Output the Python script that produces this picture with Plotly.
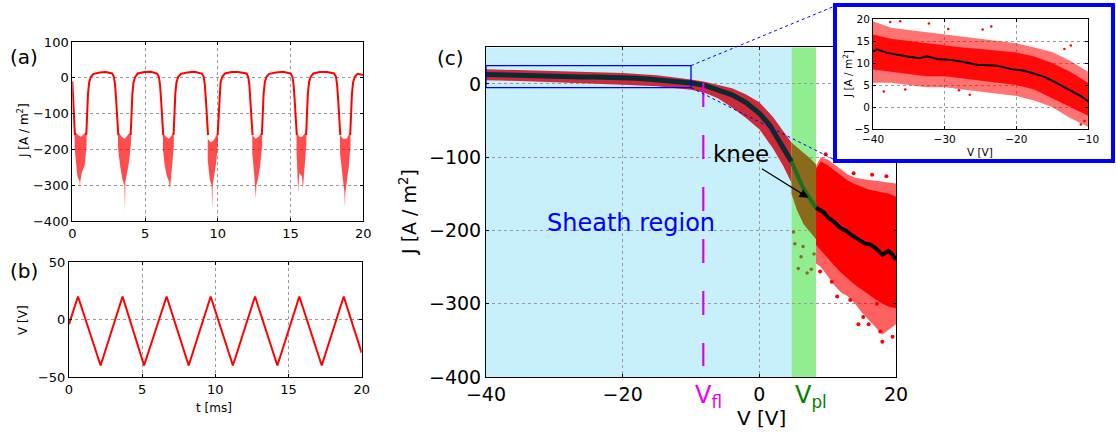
import plotly.graph_objects as go

W, H = 1116, 434
FONT = "DejaVu Sans"

# ---------------- Panel (a): J(t) ----------------
T_A_LINE = [0, 0.06, 0.12, 0.18, None,
            0.96, 1.02, 1.08, 1.16, 1.28, 1.46, 1.9, 2.3, 2.74, 2.86, 2.94, 3.01, 3.08, 3.16, None,
            4.01, 4.07, 4.13, 4.21, 4.33, 4.51, 4.95, 5.4, 5.83, 5.95, 6.03, 6.1, 6.17, 6.25, None,
            6.96, 7.02, 7.08, 7.16, 7.28, 7.46, 7.9, 8.4, 8.91, 9.03, 9.11, 9.18, 9.25, 9.33, None,
            9.99, 10.05, 10.11, 10.19, 10.31, 10.49, 10.95, 11.4, 11.97, 12.09, 12.17, 12.24, 12.31, 12.39, None,
            13.03, 13.09, 13.15, 13.23, 13.35, 13.53, 14.0, 14.5, 15.01, 15.13, 15.21, 15.28, 15.35, 15.43, None,
            16.07, 16.13, 16.19, 16.27, 16.39, 16.57, 17.0, 17.5, 18.0, 18.12, 18.2, 18.27, 18.34, 18.42, None,
            19.1, 19.16, 19.22, 19.3, 19.42, 19.6, 20]
J_A_LINE = [-10, -60, -110, -160, None,
            -160, -100, -45, -12, 3, 11, 15, 16, 12, 3, -20, -60, -110, -160, None,
            -160, -100, -45, -12, 3, 12, 16, 17, 12, 3, -20, -60, -110, -160, None,
            -160, -100, -45, -12, 3, 11, 15, 17, 12, 3, -20, -60, -110, -160, None,
            -160, -100, -45, -12, 3, 12, 16, 16, 12, 3, -20, -60, -110, -160, None,
            -160, -100, -45, -12, 3, 11, 15, 17, 12, 3, -20, -60, -110, -160, None,
            -160, -100, -45, -12, 3, 12, 16, 16, 12, 3, -20, -60, -110, -160, None,
            -160, -100, -45, -12, 3, 11, 8]

# scattered dip clouds (outline of each cloud)
T_A_DIPS = [0.16, 0.4, 0.6, 0.8, 0.98, 0.98, 0.85, 0.65, 0.55, 0.53, 0.5, 0.35, 0.25, 0.16, None,
            3.14, 3.4, 3.6, 3.8, 4.03, 4.03, 3.9, 3.75, 3.65, 3.62, 3.58, 3.45, 3.3, 3.14, None,
            6.23, 6.45, 6.65, 6.85, 6.98, 6.98, 6.85, 6.75, 6.71, 6.65, 6.5, 6.35, 6.23, None,
            9.31, 9.5, 9.7, 9.85, 10.01, 10.01, 9.88, 9.75, 9.65, 9.62, 9.58, 9.45, 9.31, None,
            12.37, 12.6, 12.8, 13.05, 13.05, 12.9, 12.75, 12.65, 12.62, 12.58, 12.5, 12.37, None,
            15.41, 15.6, 15.8, 16.09, 16.09, 15.98, 15.9, 15.85, 15.78, 15.6, 15.52, 15.47, 15.41, None,
            18.4, 18.6, 18.85, 19.12, 19.12, 19.0, 18.85, 18.77, 18.74, 18.7, 18.6, 18.5, 18.4]
J_A_DIPS = [-150, -160, -165, -158, -150, -190, -245, -265, -290, -315, -290, -275, -240, -195, None,
            -150, -165, -170, -160, -150, -185, -235, -270, -290, -372, -300, -285, -250, -195, None,
            -155, -165, -170, -160, -150, -190, -250, -285, -312, -290, -275, -245, -200, None,
            -170, -180, -175, -165, -150, -185, -240, -270, -300, -370, -300, -285, -230, None,
            -160, -170, -165, -150, -190, -250, -285, -300, -338, -300, -270, -210, None,
            -150, -165, -165, -150, -185, -240, -280, -310, -275, -265, -322, -260, -200, None,
            -160, -170, -170, -150, -190, -250, -295, -320, -362, -320, -285, -250, -210]

# ---------------- Panel (b): V(t) ----------------
T_B = [0, 0.615, 2.16, 3.66, 5.13, 6.67, 8.18, 9.68, 11.2, 12.71, 14.24, 15.74, 17.27, 18.77, 20]
V_B = [-4, 20, -40, 20, -40, 20, -40, 20, -40, 20, -40, 20, -40, 20, -29]

# ---------------- Panel (c): J(V) ----------------
V_FL = -8.2
V_PL_LO, V_PL_HI = 4.7, 8.3
VFL_J_TOP, VFL_J_BOT = 1.4, -385

V_SHEATH = [-40, -35, -30, -25, -20, -15, -12, -10, -8, -6, -4, -2, 0, 2, 3.5, 4.7]
J_SHEATH_HI = [20, 19, 18, 17, 15, 12, 9, 6, 3, -1, -6, -14, -25, -45, -64, -80]
J_SHEATH_LO = [5, 4, 2.5, 1, -1, -3, -6, -8, -12, -20, -32, -46, -62, -88, -112, -135]

V_BROWN = [4.7, 5.5, 6.5, 7.5, 8.3]
J_BROWN_HI = [-80, -86, -94, -102, -110]
J_BROWN_LO = [-150, -172, -192, -203, -212]
V_BROWN_PTS = [5.2, 6.1, 5.7, 7.6, 8.0, 5.0, 7.0, 6.4]
J_BROWN_PTS = [-218, -236, -252, -253, -232, -202, -258, -222]

V_RED = [8.3, 9, 10, 11, 12, 13, 14, 15, 16, 17, 18, 19, 20]
J_RED_OUT_HI = [-112, -100, -103, -110, -118, -124, -128, -130, -131, -132, -133, -134, -136]
J_RED_OUT_LO = [-245, -250, -262, -275, -285, -290, -300, -312, -322, -332, -342, -335, -328]
J_RED_IN_HI = [-116, -106, -111, -118, -126, -132, -137, -141, -144, -146, -148, -150, -154]
J_RED_IN_LO = [-220, -228, -238, -248, -258, -266, -274, -281, -288, -294, -300, -304, -306]
V_RED_PTS = [9.7, 13.8, 16.5, 18.6, 11.4, 13.3, 14.5, 15.2, 18.0, 17.7, 8.9, 19.5, 12.2, 16.0, 10.6, 17.2]
J_RED_PTS = [-96, -122, -124, -126, -290, -295, -328, -318, -352, -338, -256, -345, -97, -328, -270, -300]

V_MEAN_S = [-40, -38, -36, -34, -32, -30, -28, -26, -24, -22, -20, -18, -16, -14, -12, -10,
            -8, -6, -4, -2, 0, 1.5, 3, 4.7]
J_MEAN_S = [13, 12.3, 11.7, 11.2, 11.3, 10.7, 10.3, 9.6, 9.5, 9.2, 8.5, 7.7, 6.5, 5.2, 3.6, 1.3,
            -2, -8, -15, -25, -40, -56, -78, -106]
V_MEAN_G = [4.7, 5.5, 6.3, 7.2, 8.3]
J_MEAN_G = [-106, -124, -140, -154, -169]
V_MEAN_R = [8.3, 9.4, 10.1, 10.9, 11.9, 12.8, 13.6, 14.1, 14.8, 15.5, 16.2, 17.0, 18.0, 18.9, 19.4, 20]
J_MEAN_R = [-169, -175, -183, -188, -197, -201, -207, -210, -213, -218, -219, -224, -233, -228, -232, -240]

# ---------------- Inset ----------------
V_IN = [-40, -37.5, -35, -32.5, -30, -27.5, -25, -22.5, -20, -17.5, -15, -12.5, -10]
J_IN_OUT_HI = [19.5, 18, 17.5, 17, 16.5, 16, 15.5, 15, 14.5, 13.5, 12.5, 10.5, 8]
J_IN_OUT_LO = [5.5, 5.5, 5, 4.5, 4.5, 4, 3.5, 3, 2.5, 1.5, 0, -2.5, -4.5]
J_IN_IN_HI = [16.5, 15.5, 15, 14.5, 14, 13.5, 13.2, 12.8, 12.4, 11.5, 10, 8, 5.5]
J_IN_IN_LO = [8.5, 8, 7.5, 7, 7, 6.5, 6, 5.5, 5, 4, 2, 0, -2]
V_IN_PTS = [-37.6, -36.2, -32.2, -29.5, -24.7, -23.5, -13.3, -12.4, -38.5, -35.5, -28, -26.5, -11, -10.5]
J_IN_PTS = [19.3, 19.5, 19, 17.7, 17.6, 18.3, 13.2, 14, 3.5, 4, 3.8, 2.8, -4, -3.2]
V_IN_MEAN = [-40, -39.5, -38, -36.7, -35, -33.5, -32.5, -31, -28.8, -27, -25.5, -24, -22.7,
             -20.4, -19, -17.6, -16, -14.8, -12.5, -11, -10]
J_IN_MEAN = [12.5, 13.1, 12.3, 11.9, 11.4, 11.1, 11.5, 10.9, 10.6, 10.1, 9.6, 9.5, 9.4,
             8.5, 8.3, 7.6, 6.8, 5.8, 3.9, 2.5, 1.3]

XR_A, YR_A = [0, 20], [-400, 100]
XR_B, YR_B = [0, 20], [-50, 50]
XR_C, YR_C = [-40, 20], [-400, 50]
XR_I, YR_I = [-40, -10], [-5, 20]
ZOOM_BOX_V = [-40, -10]
ZOOM_BOX_J = [-5, 25]


def pxx(p):
    return p / W


def pxy(p):
    return 1 - p / H


DOM_A = ([pxx(72.3), pxx(363.3)], [pxy(221), pxy(42)])
DOM_B = ([pxx(69), pxx(361.7)], [pxy(377), pxy(262)])
DOM_C = ([pxx(486), pxx(896)], [pxy(377), pxy(47.3)])
DOM_BOX = ([pxx(837), pxx(1111)], [pxy(159), pxy(7)])
DOM_I = ([pxx(873), pxx(1088)], [pxy(129), pxy(19)])


def c_to_paper(v, j):
    fx = (v - XR_C[0]) / (XR_C[1] - XR_C[0])
    fy = (j - YR_C[0]) / (YR_C[1] - YR_C[0])
    return (DOM_C[0][0] + fx * (DOM_C[0][1] - DOM_C[0][0]),
            DOM_C[1][0] + fy * (DOM_C[1][1] - DOM_C[1][0]))


RED = "#ff0000"
fig = go.Figure()

# (a)
fig.add_trace(go.Scatter(x=T_A_DIPS, y=J_A_DIPS, fill="toself", mode="lines",
                         line=dict(width=0), fillcolor="rgba(255,0,0,0.7)",
                         xaxis="x", yaxis="y", hoverinfo="skip"))
fig.add_trace(go.Scatter(x=T_A_LINE, y=J_A_LINE, mode="lines", line=dict(color=RED, width=2),
                         xaxis="x", yaxis="y", hoverinfo="skip"))
# (b)
fig.add_trace(go.Scatter(x=T_B, y=V_B, mode="lines", line=dict(color=RED, width=2),
                         xaxis="x2", yaxis="y2", hoverinfo="skip"))


def band(x, hi, lo, color, ax, ay):
    return go.Scatter(x=list(x) + list(x)[::-1], y=list(hi) + list(lo)[::-1], fill="toself",
                      mode="lines", line=dict(width=0), fillcolor=color,
                      xaxis=ax, yaxis=ay, hoverinfo="skip")


# (c)
fig.add_trace(band(V_SHEATH, J_SHEATH_HI, J_SHEATH_LO, "#cc2a36", "x3", "y3"))
fig.add_trace(band(V_BROWN, J_BROWN_HI, J_BROWN_LO, "#8c6a1c", "x3", "y3"))
fig.add_trace(go.Scatter(x=V_BROWN_PTS, y=J_BROWN_PTS, mode="markers",
                         marker=dict(color="#8c6a1c", size=3.5), xaxis="x3", yaxis="y3", hoverinfo="skip"))
fig.add_trace(band(V_RED, J_RED_OUT_HI, J_RED_OUT_LO, "rgba(255,0,0,0.62)", "x3", "y3"))
fig.add_trace(band(V_RED, J_RED_IN_HI, J_RED_IN_LO, RED, "x3", "y3"))
fig.add_trace(go.Scatter(x=V_RED_PTS, y=J_RED_PTS, mode="markers",
                         marker=dict(color=RED, size=4), xaxis="x3", yaxis="y3", hoverinfo="skip"))
fig.add_trace(go.Scatter(x=V_MEAN_S, y=J_MEAN_S, mode="lines", line=dict(color="#0b2a33", width=5),
                         xaxis="x3", yaxis="y3", hoverinfo="skip"))
fig.add_trace(go.Scatter(x=V_MEAN_G, y=J_MEAN_G, mode="lines", line=dict(color="#1e6e22", width=4),
                         xaxis="x3", yaxis="y3", hoverinfo="skip"))
fig.add_trace(go.Scatter(x=V_MEAN_R, y=J_MEAN_R, mode="lines", line=dict(color="black", width=4),
                         xaxis="x3", yaxis="y3", hoverinfo="skip"))
fig.add_trace(go.Scatter(x=[V_FL, V_FL], y=[VFL_J_TOP, VFL_J_BOT], mode="lines",
                         line=dict(color="#dd00ee", width=2.2, dash="24px,28px"),
                         xaxis="x3", yaxis="y3", hoverinfo="skip"))

# blank white panel behind the inset (gives the blue frame its own subplot)
fig.add_trace(go.Scatter(x=[], y=[], mode="lines", xaxis="x4", yaxis="y4", hoverinfo="skip"))

# inset
fig.add_trace(band(V_IN, J_IN_OUT_HI, J_IN_OUT_LO, "rgba(255,0,0,0.55)", "x5", "y5"))
fig.add_trace(band(V_IN, J_IN_IN_HI, J_IN_IN_LO, "rgba(255,0,0,0.92)", "x5", "y5"))
fig.add_trace(go.Scatter(x=V_IN_PTS, y=J_IN_PTS, mode="markers", marker=dict(color=RED, size=2.5),
                         xaxis="x5", yaxis="y5", hoverinfo="skip"))
fig.add_trace(go.Scatter(x=V_IN_MEAN, y=J_IN_MEAN, mode="lines", line=dict(color="black", width=2),
                         xaxis="x5", yaxis="y5", hoverinfo="skip"))


def axis(domain, rng, anchor, size, dtick=None, tickvals=None):
    d = dict(domain=domain, range=rng, anchor=anchor, showline=True, linecolor="black",
             linewidth=1, mirror="ticks", ticks="inside", ticklen=3, tickcolor="black",
             showgrid=True, gridcolor="#9a9a9a", griddash="dot", gridwidth=1, zeroline=False,
             tickfont=dict(family=FONT, size=size, color="black"), fixedrange=True)
    if dtick is not None:
        d["dtick"] = dtick
        d["tick0"] = 0
    if tickvals is not None:
        d["tickvals"] = tickvals
        d["tickmode"] = "array"
    return d


box_ax = dict(range=[0, 1], showline=True, mirror=True, linecolor="#0000ff", linewidth=4,
              showgrid=False, zeroline=False, showticklabels=False, ticks="", fixedrange=True)

layout = dict(
    width=W, height=H, autosize=False, margin=dict(l=0, r=0, t=0, b=0, autoexpand=False),
    paper_bgcolor="white", plot_bgcolor="white", showlegend=False,
    font=dict(family=FONT, color="black"),
    xaxis=axis(DOM_A[0], XR_A, "y", 13, dtick=5),
    yaxis=axis(DOM_A[1], YR_A, "x", 13, dtick=100),
    xaxis2=axis(DOM_B[0], XR_B, "y2", 13, dtick=5),
    yaxis2=axis(DOM_B[1], YR_B, "x2", 13, dtick=50),
    xaxis3=axis(DOM_C[0], XR_C, "y3", 19, dtick=20),
    yaxis3=axis(DOM_C[1], YR_C, "x3", 19, tickvals=[-400, -300, -200, -100, 0]),
    xaxis4=dict(domain=DOM_BOX[0], anchor="y4", **box_ax),
    yaxis4=dict(domain=DOM_BOX[1], anchor="x4", **box_ax),
    xaxis5=axis(DOM_I[0], XR_I, "y5", 10.5, dtick=10),
    yaxis5=axis(DOM_I[1], YR_I, "x5", 10.5, dtick=5),
)
fig.update_layout(**layout)

# shaded regions in (c)
fig.add_shape(type="rect", xref="x3", yref="y3", x0=XR_C[0], x1=V_PL_LO, y0=YR_C[0], y1=YR_C[1],
              fillcolor="#c8f0fc", line=dict(width=0), layer="below")
fig.add_shape(type="rect", xref="x3", yref="y3", x0=V_PL_LO, x1=V_PL_HI, y0=YR_C[0], y1=YR_C[1],
              fillcolor="#90ee90", line=dict(width=0), layer="below")
# zoom rectangle and connectors
fig.add_shape(type="rect", xref="x3", yref="y3", x0=ZOOM_BOX_V[0], x1=ZOOM_BOX_V[1],
              y0=ZOOM_BOX_J[0], y1=ZOOM_BOX_J[1], line=dict(color="#0000ff", width=1.3), layer="above")
p_top = c_to_paper(ZOOM_BOX_V[1], ZOOM_BOX_J[1])
p_bot = c_to_paper(ZOOM_BOX_V[1], ZOOM_BOX_J[0])
fig.add_shape(type="line", xref="paper", yref="paper", x0=p_top[0], y0=p_top[1],
              x1=pxx(835), y1=pxy(6), line=dict(color="#0000ff", width=1, dash="dot"), layer="above")
fig.add_shape(type="line", xref="paper", yref="paper", x0=p_bot[0], y0=p_bot[1],
              x1=pxx(835), y1=pxy(160), line=dict(color="#0000ff", width=1, dash="dot"), layer="above")


def note(text, x, y, size, color="black", angle=0, xanchor="center"):
    fig.add_annotation(text=text, x=pxx(x), y=pxy(y), xref="paper", yref="paper",
                       showarrow=False, textangle=angle, xanchor=xanchor, yanchor="middle",
                       font=dict(family=FONT, size=size, color=color))


note("(a)", 24, 57, 20)
note("(b)", 24, 271, 20)
note("(c)", 450, 58, 20)
note("J [A / m<sup>2</sup>]", 23, 131, 12, angle=-90)
note("V [V]", 23, 320, 12, angle=-90)
note("t [ms]", 214, 408, 12)
note("J [A / m<sup>2</sup>]", 408, 212, 19, angle=-90)
note("V [V]", 762, 418, 20)
note("V<sub>fl</sub>", 708, 396, 24, color="#ee00ee")
note("V<sub>pl</sub>", 811, 396, 24, color="#008000")
note("Sheath region", 631, 223, 24, color="#0000ff")
note("knee", 741, 154, 23)
note("J [A / m<sup>2</sup>]", 847, 74, 10.5, angle=-90)
note("V [V]", 980, 152, 10.5)

fig.add_annotation(x=7.2, y=-155.5, xref="x3", yref="y3", ax=0.15, ay=-114.5, axref="x3", ayref="y3",
                   text="", showarrow=True, arrowhead=2, arrowsize=1.5, arrowwidth=1.2,
                   arrowcolor="black")

fig.write_html("out.html", config={"displayModeBar": False},
               post_script="document.body.style.margin='0px';document.body.style.overflow='hidden';")
